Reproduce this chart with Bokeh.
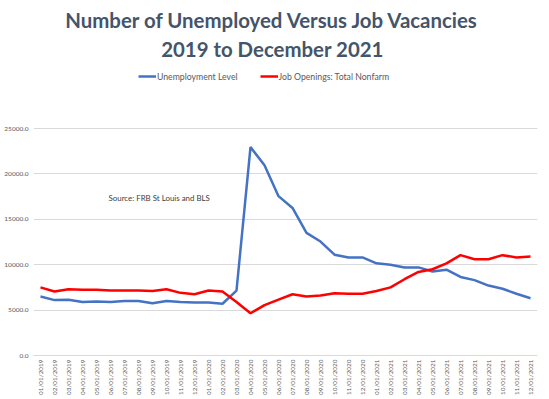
from bokeh.plotting import figure
from bokeh.models import (FactorRange, Range1d, FixedTicker, PrintfTickFormatter,
                          Legend, LegendItem, Label)
from bokeh.embed import file_html
from bokeh.resources import INLINE
from math import pi

months = ["01/01/2019", "02/01/2019", "03/01/2019", "04/01/2019", "05/01/2019", "06/01/2019",
          "07/01/2019", "08/01/2019", "09/01/2019", "10/01/2019", "11/01/2019", "12/01/2019",
          "01/01/2020", "02/01/2020", "03/01/2020", "04/01/2020", "05/01/2020", "06/01/2020",
          "07/01/2020", "08/01/2020", "09/01/2020", "10/01/2020", "11/01/2020", "12/01/2020",
          "01/01/2021", "02/01/2021", "03/01/2021", "04/01/2021", "05/01/2021", "06/01/2021",
          "07/01/2021", "08/01/2021", "09/01/2021", "10/01/2021", "11/01/2021", "12/01/2021"]

unemployment = [6500, 6100, 6150, 5900, 5950, 5900, 6000, 6000, 5750, 6000, 5900, 5850,
                5850, 5700, 7150, 22950, 20950, 17550, 16250, 13500, 12550, 11100, 10800, 10800,
                10150, 10000, 9700, 9700, 9250, 9450, 8650, 8300, 7700, 7350, 6800, 6300]

job_openings = [7500, 7050, 7300, 7250, 7250, 7150, 7150, 7150, 7100, 7300, 6900, 6750,
                7150, 7050, 5900, 4650, 5550, 6150, 6750, 6500, 6600, 6850, 6800, 6800,
                7100, 7500, 8400, 9200, 9500, 10150, 11050, 10600, 10600, 11050, 10800, 10900]

y_ticks = [0, 5000, 10000, 15000, 20000, 25000]

title_line1 = "Number of Unemployed Versus Job Vacancies"
title_line2 = "2019 to December 2021"
source_text = "Source: FRB St Louis and BLS"

# frame extends to the top of the canvas; title/legend live in its upper part
p = figure(width=538, height=398, x_range=FactorRange(factors=months),
           y_range=Range1d(0, 39097), output_backend="svg", toolbar_location=None,
           min_border_left=33, min_border_right=1, min_border_top=0, min_border_bottom=43)
p.title = None
p.outline_line_color = None
p.background_fill_color = "white"
p.border_fill_color = "white"

r1 = p.line(months, unemployment, line_color="#4472C4", line_width=2.5)
r2 = p.line(months, job_openings, line_color="#FF0000", line_width=2.5)

legend = Legend(items=[LegendItem(label="Unemployment Level", renderers=[r1]),
                       LegendItem(label="Job Openings: Total Nonfarm", renderers=[r2])],
                orientation="horizontal", location=(105, 273), padding=0, margin=0,
                spacing=22, glyph_width=18, glyph_height=12, label_height=12,
                label_standoff=1, label_text_font="Lato", label_text_font_size="8.7px",
                label_text_color="#595959", border_line_color=None,
                background_fill_alpha=0)
p.add_layout(legend, "center")

for txt, ys in [(title_line1, 336), (title_line2, 307)]:
    p.add_layout(Label(x=239, y=ys, x_units="screen", y_units="screen", text=txt,
                       text_font="Lato", text_font_size="20.4px", text_font_style="bold",
                       text_color="#44546A", text_align="center", text_baseline="middle"))

p.add_layout(Label(x=75, y=158, x_units="screen", y_units="screen", text=source_text,
                   text_font="Lato", text_font_size="7.9px", text_color="#404040",
                   text_baseline="middle"))

p.yaxis.ticker = FixedTicker(ticks=y_ticks)
p.yaxis.formatter = PrintfTickFormatter(format="%.1f")
p.yaxis.axis_line_color = None
p.yaxis.major_tick_line_color = None
p.yaxis.minor_tick_line_color = None
p.yaxis.major_tick_out = 0
p.yaxis.major_tick_in = 0
p.yaxis.major_label_standoff = 5
p.yaxis.major_label_text_font = "Lato"
p.yaxis.major_label_text_font_size = "6.5px"
p.yaxis.major_label_text_color = "#595959"

p.xaxis.axis_line_color = "#D9D9D9"
p.xaxis.major_tick_line_color = None
p.xaxis.major_tick_out = 0
p.xaxis.major_tick_in = 0
p.xaxis.major_label_standoff = 4
p.xaxis.major_label_orientation = pi / 2
p.xaxis.major_label_text_font = "Lato"
p.xaxis.major_label_text_font_size = "6.4px"
p.xaxis.major_label_text_color = "#595959"

p.xgrid.grid_line_color = None
p.ygrid.grid_line_color = "#D9D9D9"
p.ygrid.grid_line_width = 1

open("out.html", "w").write(file_html(p, INLINE))
